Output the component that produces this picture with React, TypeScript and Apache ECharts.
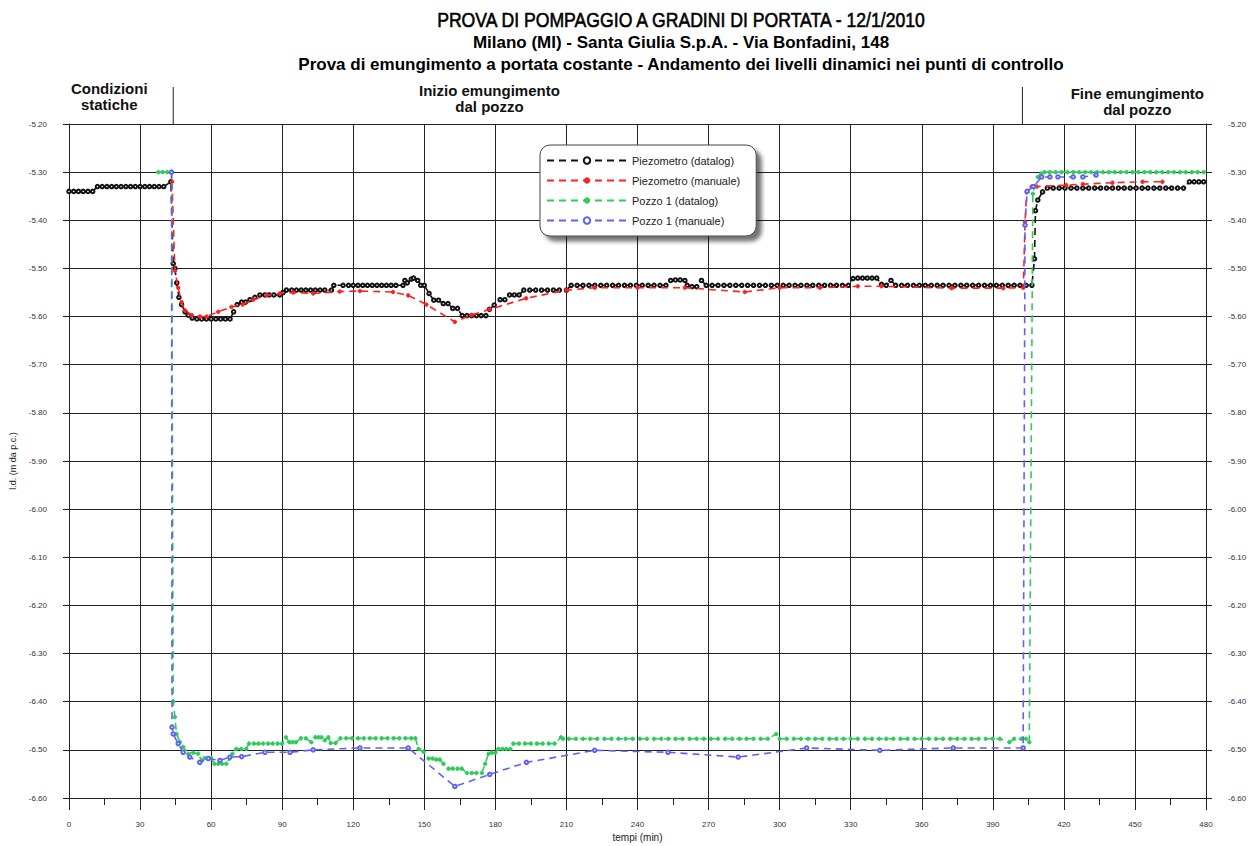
import React, { useEffect, useRef } from "react";
import * as echarts from "echarts";

// ---------- DATA ----------
const titleLines = [
  "PROVA DI POMPAGGIO A GRADINI DI PORTATA - 12/1/2010",
  "Milano (MI) - Santa Giulia S.p.A. - Via Bonfadini, 148",
  "Prova di emungimento a portata costante - Andamento dei livelli dinamici nei punti di controllo",
];

const seriesNames = [
  "Piezometro (datalog)",
  "Piezometro (manuale)",
  "Pozzo 1 (datalog)",
  "Pozzo 1 (manuale)",
];

// pumping start / end (min)
const phaseTimes = [44, 402.5];
// phase labels with their reference time position
const phaseLabels: [number, string, string][] = [
  [17, "Condizioni", "statiche"],
  [177.5, "Inizio emungimento", "dal pozzo"],
  [451, "Fine emungimento", "dal pozzo"],
];

const piezoDatalog: [number, number][] = [
  [0, -5.34], [2, -5.34], [4, -5.34], [6, -5.34], [8, -5.34], [10, -5.34],
  [12, -5.33], [14, -5.33], [16, -5.33], [18, -5.33], [20, -5.33], [22, -5.33], [24, -5.33],
  [26, -5.33], [28, -5.33], [30, -5.33], [32, -5.33], [34, -5.33], [36, -5.33], [38, -5.33], [40, -5.33],
  [43, -5.32], [44, -5.49], [44.7, -5.5], [45.5, -5.53], [46.4, -5.56], [47.5, -5.575], [49, -5.59],
  [50.3, -5.597], [52, -5.603], [54, -5.605], [56, -5.605], [58, -5.605], [60, -5.605], [62, -5.605],
  [64, -5.605], [66, -5.605], [68, -5.605], [69.5, -5.59], [71, -5.575], [72.9, -5.57], [74.5, -5.57],
  [76.4, -5.565], [78.5, -5.56], [80.6, -5.555], [82.7, -5.555], [84.5, -5.555], [86.5, -5.555],
  [89, -5.555], [90.4, -5.55], [91.8, -5.545], [94, -5.545], [96, -5.545], [98, -5.545], [100, -5.545],
  [102, -5.545], [104, -5.545], [106, -5.545], [108, -5.545], [110.8, -5.545], [111.8, -5.535],
  [115.7, -5.535], [118, -5.535], [120, -5.535], [122, -5.535], [124, -5.535], [126, -5.535],
  [128, -5.535], [130, -5.535], [132, -5.535], [134, -5.535], [136, -5.535], [138, -5.535],
  [141, -5.535], [141.8, -5.525], [142.8, -5.53], [144.5, -5.522], [145.5, -5.52], [147.2, -5.525],
  [148.5, -5.535], [150, -5.535], [152, -5.552], [154, -5.566], [156, -5.566], [158, -5.573],
  [160, -5.573], [162, -5.583], [164, -5.583], [166, -5.598], [168, -5.598], [170, -5.598],
  [172, -5.598], [174, -5.598], [176, -5.598], [177.5, -5.585], [179.5, -5.576], [182, -5.565],
  [184, -5.565], [186, -5.555], [188, -5.555], [190, -5.555], [192, -5.545], [194.5, -5.545],
  [197, -5.545], [199.5, -5.545], [202, -5.545], [204.5, -5.545], [207, -5.545], [210, -5.545],
  [212, -5.535], [214.5, -5.535], [217, -5.535], [219.5, -5.535], [222, -5.535], [224.5, -5.535],
  [227, -5.535], [229.5, -5.535], [232, -5.535], [234.5, -5.535], [237, -5.535], [239.5, -5.535],
  [242, -5.535], [244.5, -5.535], [247, -5.535], [249.5, -5.535], [252, -5.535], [254, -5.525],
  [256, -5.524], [258, -5.524], [260, -5.525], [261, -5.535], [263, -5.538], [265, -5.538],
  [267, -5.525], [269, -5.535], [271.5, -5.535], [274, -5.535], [276.5, -5.535], [279, -5.535],
  [281.5, -5.535], [284, -5.535], [286.5, -5.535], [289, -5.535], [291.5, -5.535], [294, -5.535],
  [296.5, -5.535], [299, -5.535], [301.5, -5.535], [304, -5.535], [306.5, -5.535], [309, -5.535],
  [311.5, -5.535], [314, -5.535], [316.5, -5.535], [319, -5.535], [321.5, -5.535], [324, -5.535],
  [326.5, -5.535], [329, -5.535], [331, -5.521], [333, -5.52], [335, -5.52], [337, -5.52],
  [339, -5.52], [341, -5.52], [343, -5.533], [345, -5.535], [347, -5.525], [349, -5.535],
  [351.5, -5.535], [354, -5.535], [356.5, -5.535], [359, -5.535], [361.5, -5.535], [364, -5.535],
  [366.5, -5.535], [369, -5.535], [371.5, -5.535], [374, -5.535], [376.5, -5.535], [379, -5.535],
  [381.5, -5.535], [384, -5.535], [386.5, -5.535], [389, -5.535], [391.5, -5.535], [394, -5.535],
  [396.5, -5.535], [399, -5.535], [401.5, -5.535], [404, -5.535], [406.5, -5.535], [407.6, -5.48],
  [408, -5.38], [409, -5.358], [411, -5.341], [413, -5.333], [415.5, -5.333], [418, -5.333],
  [420.5, -5.333], [423, -5.333], [425.5, -5.333], [428, -5.333], [430.5, -5.333], [433, -5.333],
  [435.5, -5.333], [438, -5.333], [440.5, -5.333], [443, -5.333], [445.5, -5.333], [448, -5.333],
  [450.5, -5.333], [453, -5.333], [455.5, -5.333], [458, -5.333], [460.5, -5.333], [463, -5.333],
  [465.5, -5.333], [468, -5.333], [470.5, -5.333], [473, -5.32], [475, -5.32], [477, -5.32], [479, -5.32],
];

const piezoManual: [number, number][] = [
  [43.5, -5.32], [44.7, -5.505], [46.1, -5.54], [47.5, -5.57], [48.9, -5.587], [51.8, -5.597],
  [55.3, -5.6], [58.1, -5.6], [63, -5.59], [68.6, -5.58], [73.3, -5.575], [77.8, -5.565],
  [83.4, -5.556], [89, -5.552], [94.7, -5.55], [103.1, -5.552], [114.3, -5.548], [122.8, -5.547],
  [136.8, -5.549], [143.2, -5.556], [150.9, -5.575], [162.9, -5.611], [169.9, -5.597],
  [177.6, -5.585], [193, -5.562], [210, -5.545], [222, -5.54], [240, -5.54], [260, -5.54],
  [285.3, -5.549], [300, -5.54], [317, -5.54], [333, -5.537], [343, -5.537], [372.6, -5.541],
  [394.4, -5.541], [402.9, -5.54], [403.6, -5.403], [404.3, -5.341], [406.4, -5.33], [408.5, -5.33],
  [421, -5.327], [428, -5.325], [440.5, -5.322], [453.2, -5.32], [461.6, -5.32],
];

const pozzoDatalog: [number, number][] = [
  [37.7, -5.3], [39.5, -5.3], [41.5, -5.3], [43.3, -5.3], [44, -6.4], [44.7, -6.432], [45.4, -6.467],
  [46.8, -6.484], [48.2, -6.494], [50.3, -6.508], [52.4, -6.506], [54.5, -6.508], [56, -6.522],
  [57.3, -6.517], [58.7, -6.517], [60, -6.517], [61.4, -6.529], [63, -6.529], [64.7, -6.529],
  [66.4, -6.529], [67.8, -6.518], [69, -6.508], [70.6, -6.498], [72.7, -6.498], [74.8, -6.498],
  [76, -6.487], [78, -6.487], [80, -6.487], [82, -6.487], [84, -6.487], [86, -6.487], [88, -6.487],
  [90, -6.487], [91.6, -6.474], [93, -6.484], [94.4, -6.484], [95.8, -6.484], [97.9, -6.476],
  [100, -6.476], [102.3, -6.484], [104, -6.474], [105.3, -6.474], [106.6, -6.474], [108, -6.48],
  [109.5, -6.474], [110.5, -6.486], [112.5, -6.486], [114.6, -6.476], [117, -6.476], [119.5, -6.476],
  [122, -6.476], [124.5, -6.476], [127, -6.476], [129.5, -6.476], [132, -6.476], [134.5, -6.476],
  [137, -6.476], [139.5, -6.476], [142, -6.476], [144.5, -6.476], [146.2, -6.476], [147.6, -6.498],
  [149.7, -6.504], [151.8, -6.518], [153.5, -6.518], [155, -6.52], [156.5, -6.52], [158.1, -6.529],
  [160.2, -6.539], [162, -6.539], [164, -6.539], [165.8, -6.539], [168, -6.548], [170, -6.548],
  [172, -6.548], [174.3, -6.548], [175.7, -6.529], [177.1, -6.508], [178.5, -6.506], [180, -6.506],
  [181.3, -6.498], [183, -6.498], [184.6, -6.498], [186.3, -6.498], [187.6, -6.487], [190, -6.487],
  [192.5, -6.487], [195, -6.487], [197.5, -6.487], [200, -6.487], [202.5, -6.487], [205, -6.487],
  [207.7, -6.474], [208.6, -6.477], [211, -6.477], [214, -6.477], [217, -6.477], [220, -6.477],
  [223, -6.477], [226, -6.477], [229, -6.477], [232, -6.477], [235, -6.477], [238, -6.477],
  [241, -6.477], [244, -6.477], [247, -6.477], [250, -6.477], [253, -6.477], [256, -6.477],
  [259, -6.477], [262, -6.477], [265, -6.477], [268, -6.477], [271, -6.477], [274, -6.477],
  [277, -6.477], [280, -6.477], [283, -6.477], [286, -6.477], [289, -6.477], [292, -6.477],
  [295, -6.477], [298.6, -6.467], [300, -6.477], [303, -6.477], [306, -6.477], [309, -6.477],
  [312, -6.477], [315, -6.477], [318, -6.477], [321, -6.477], [324, -6.477], [327, -6.477],
  [330, -6.477], [333, -6.477], [336, -6.477], [339, -6.477], [342, -6.477], [345, -6.477],
  [348, -6.477], [351, -6.477], [354, -6.477], [357, -6.477], [360, -6.477], [363, -6.477],
  [366, -6.477], [369, -6.477], [372, -6.477], [375, -6.477], [378, -6.477], [381, -6.477],
  [384, -6.477], [387, -6.477], [390, -6.477], [393, -6.477], [397, -6.484], [399, -6.477],
  [402, -6.477], [404, -6.477], [405.4, -6.484], [406.9, -5.345], [407.6, -5.33], [409, -5.31],
  [410.4, -5.303], [411.8, -5.3], [414, -5.3], [416.5, -5.3], [419, -5.3], [421.5, -5.3], [424, -5.3],
  [426.5, -5.3], [429, -5.3], [431.5, -5.3], [434, -5.3], [436.5, -5.3], [439, -5.3], [441.5, -5.3],
  [444, -5.3], [446.5, -5.3], [449, -5.3], [451.5, -5.3], [454, -5.3], [456.5, -5.3], [459, -5.3],
  [461.5, -5.3], [464, -5.3], [466.5, -5.3], [469, -5.3], [471.5, -5.3], [474, -5.3], [476.5, -5.3],
  [479, -5.3],
];

const pozzoManual: [number, number][] = [
  [43.3, -5.3], [43.5, -6.453], [44, -6.467], [46.1, -6.487], [48.2, -6.505], [51, -6.515],
  [55.2, -6.526], [58.8, -6.518], [63.7, -6.522], [67.9, -6.515], [72.9, -6.514], [82.7, -6.505],
  [93.3, -6.505], [103.1, -6.5], [122.8, -6.496], [143.2, -6.496], [162.9, -6.576], [177.6, -6.551],
  [193.1, -6.526], [221.9, -6.501], [252.9, -6.505], [282.5, -6.515], [311.4, -6.496],
  [342.3, -6.501], [373.3, -6.496], [402.8, -6.496], [403.6, -5.41], [404.5, -5.34], [407.1, -5.33],
  [410.6, -5.31], [414.1, -5.31], [417.5, -5.31], [423.9, -5.31], [428, -5.31], [433.6, -5.306],
];

const seriesData = [piezoDatalog, piezoManual, pozzoDatalog, pozzoManual];
const seriesColors = ["#111111", "#ff2020", "#2ecc5a", "#6060f5"];
const seriesSymbols = ["emptyCircle", "circle", "circle", "emptyCircle"];

const X_MIN = 0, X_MAX = 480, X_STEP = 30;
const Y_MIN = -6.6, Y_MAX = -5.2, Y_STEP = 0.1;

const SANS = "'Liberation Sans', Arial, sans-serif";

export default function App() {
  const ref = useRef<HTMLDivElement>(null);
  useEffect(() => {
    if (!ref.current) return;
    document.body.style.margin = "0";
    const chart = echarts.init(ref.current, undefined, { renderer: "svg" });
    const axisLabel = { fontSize: 8, color: "#333", fontFamily: SANS };
    chart.setOption({
      animation: false,
      backgroundColor: "#ffffff",
      grid: {
        left: 69, right: 52, top: 124, bottom: 48,
        containLabel: false,
        outerBoundsMode: "none",
      },
      legend: {
        orient: "vertical",
        left: 540,
        top: 145,
        padding: [10, 16, 10, 6],
        itemWidth: 80,
        itemHeight: 8,
        itemGap: 9,
        backgroundColor: "#ffffff",
        borderColor: "#444",
        borderWidth: 1,
        borderRadius: 10,
        shadowColor: "rgba(0,0,0,0.55)",
        shadowBlur: 4,
        shadowOffsetX: 5,
        shadowOffsetY: 5,
        itemStyle: { borderWidth: 0 },
        textStyle: { fontSize: 11, color: "#222", fontFamily: SANS },
        data: seriesNames,
      },
      xAxis: {
        type: "value",
        min: X_MIN,
        max: X_MAX,
        interval: X_STEP,
        name: "tempi (min)",
        nameLocation: "middle",
        nameGap: 34,
        nameTextStyle: { fontSize: 10, color: "#222", fontFamily: SANS },
        axisLine: { show: true, lineStyle: { color: "#222", width: 1 } },
        axisTick: { show: true, length: 12, lineStyle: { color: "#222" } },
        minorTick: { show: true, splitNumber: 2, length: 7, lineStyle: { color: "#222" } },
        axisLabel: { ...axisLabel, margin: 22 },
        splitLine: { show: true, lineStyle: { color: "#222", width: 1 } },
      },
      yAxis: [
        {
          type: "value",
          min: Y_MIN,
          max: Y_MAX,
          interval: Y_STEP,
          position: "left",
          name: "l.d. (m da p.c.)",
          nameLocation: "middle",
          nameGap: 40,
          nameTextStyle: { fontSize: 9, color: "#222", fontFamily: SANS },
          axisLine: { show: true, lineStyle: { color: "#222" } },
          axisTick: { show: true, length: 6, lineStyle: { color: "#222" } },
          axisLabel: { ...axisLabel, margin: 22, formatter: (v: number) => v.toFixed(2) },
          splitLine: { show: true, lineStyle: { color: "#222", width: 1 } },
        },
        {
          type: "value",
          min: Y_MIN,
          max: Y_MAX,
          interval: Y_STEP,
          position: "right",
          axisLine: { show: true, lineStyle: { color: "#222" } },
          axisTick: { show: true, length: 6, lineStyle: { color: "#222" } },
          axisLabel: { ...axisLabel, margin: 22, formatter: (v: number) => v.toFixed(2) },
          splitLine: { show: false },
        },
      ],
      series: seriesNames.map((name, i) => ({
        name,
        type: "line",
        yAxisIndex: 0,
        data: seriesData[i],
        symbol: seriesSymbols[i],
        symbolSize: 3.5,
        showSymbol: true,
        lineStyle: { color: seriesColors[i], width: 1.6, type: [7, 5] },
        itemStyle: { color: seriesColors[i], borderColor: seriesColors[i], borderWidth: 1 },
        emphasis: { disabled: true },
        z: 3 + i,
      })),
    });

    // Annotations positioned through the chart's own scales
    const top = chart.convertToPixel({ gridIndex: 0 }, [0, Y_MAX]) as number[];
    const graphics: any[] = [];
    titleLines.forEach((t, i) => {
      graphics.push({
        type: "text",
        x: 681,
        y: [19, 42, 64][i],
        scaleX: i === 0 ? 0.84 : 1,
        style: {
          text: t,
          fill: "#000",
          stroke: i === 0 ? "#000" : undefined,
          lineWidth: i === 0 ? 0.6 : 0,
          font: i === 0 ? `21px ${SANS}` : `bold 17px ${SANS}`,
          textAlign: "center",
          textVerticalAlign: "middle",
        },
      });
    });
    phaseTimes.forEach((t) => {
      const p = chart.convertToPixel({ gridIndex: 0 }, [t, Y_MAX]) as number[];
      graphics.push({
        type: "line",
        shape: { x1: p[0], y1: p[1] - 37, x2: p[0], y2: p[1] },
        style: { stroke: "#222", lineWidth: 1 },
      });
    });
    phaseLabels.forEach(([t, a, b], i) => {
      const p = chart.convertToPixel({ gridIndex: 0 }, [t, Y_MAX]) as number[];
      const base = top[1] - [36, 34, 31][i];
      graphics.push({
        type: "text",
        x: p[0],
        y: base,
        style: { text: a, fill: "#111", font: `bold 15px ${SANS}`, textAlign: "center", textVerticalAlign: "middle" },
      });
      graphics.push({
        type: "text",
        x: p[0],
        y: base + 16,
        style: { text: b, fill: "#111", font: `bold 15px ${SANS}`, textAlign: "center", textVerticalAlign: "middle" },
      });
    });
    chart.setOption({ graphic: graphics });

    return () => chart.dispose();
  }, []);
  return <div ref={ref} style={{ width: 1258, height: 846 }} />;
}
